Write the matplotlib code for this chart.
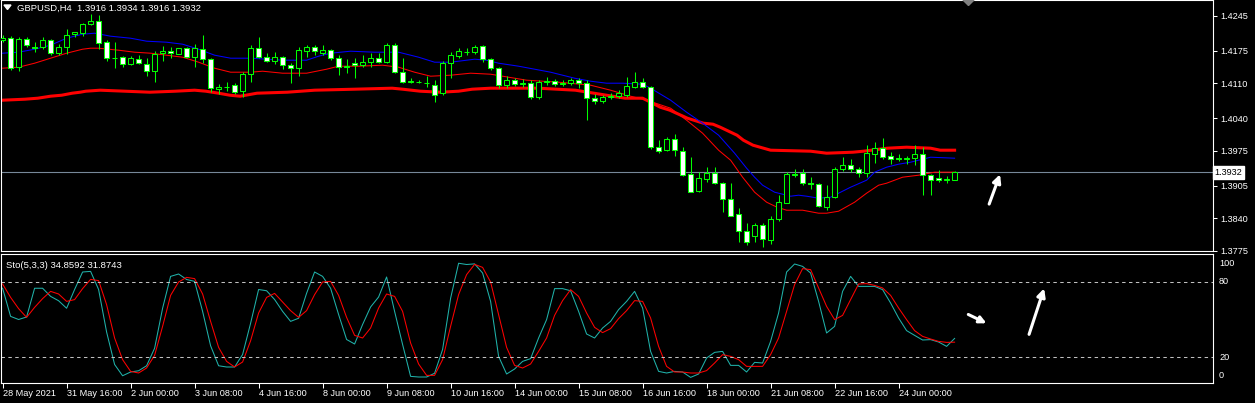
import matplotlib
matplotlib.use("Agg")
import matplotlib.pyplot as plt
import matplotlib.transforms as mtransforms
from matplotlib.patches import Polygon
import numpy as np

plt.rcParams['font.family'] = ['Liberation Sans', 'DejaVu Sans']

# GBPUSD H4 candles
opens = [1.4196, 1.4200, 1.4142, 1.4198, 1.4182, 1.4182, 1.4196, 1.4170, 1.4182, 1.4208,
         1.4210, 1.4228, 1.4234, 1.4192, 1.4161, 1.4162, 1.4148, 1.4158, 1.4148, 1.4134,
         1.4170, 1.4174, 1.4168, 1.4180, 1.4162, 1.4178, 1.4158, 1.4098, 1.4102, 1.4106,
         1.4094, 1.4128, 1.4180, 1.4162, 1.4154, 1.4162, 1.4146, 1.4140, 1.4174, 1.4182,
         1.4170, 1.4176, 1.4160, 1.4142, 1.4150, 1.4146, 1.4152, 1.4160, 1.4152, 1.4186,
         1.4132, 1.4113, 1.4112, 1.4110, 1.4106, 1.4090, 1.4150, 1.4164, 1.4172, 1.4172,
         1.4184, 1.4158, 1.4140, 1.4106, 1.4116, 1.4108, 1.4110, 1.4082, 1.4112, 1.4114,
         1.4108, 1.4110, 1.4116, 1.4110, 1.4080, 1.4074, 1.4082, 1.4084, 1.4086, 1.4102,
         1.4112, 1.4102, 1.3982, 1.3976, 1.3998, 1.3974, 1.3928, 1.3894, 1.3918, 1.3930,
         1.3910, 1.3878, 1.3848, 1.3814, 1.3804, 1.3826, 1.3796, 1.3838, 1.3870, 1.3928,
         1.3930, 1.3910, 1.3908, 1.3862, 1.3882, 1.3938, 1.3946, 1.3938, 1.3930, 1.3968,
         1.3980, 1.3964, 1.3960, 1.3959, 1.3960, 1.3968, 1.3926, 1.3920, 1.3917, 1.3916]
highs = [1.4206, 1.4204, 1.4202, 1.4202, 1.4192, 1.4202, 1.4198, 1.4188, 1.4218, 1.4213,
         1.4231, 1.4248, 1.4246, 1.4196, 1.4192, 1.4164, 1.4164, 1.4166, 1.4160, 1.4174,
         1.4184, 1.4182, 1.4180, 1.4182, 1.4188, 1.4206, 1.4160, 1.4108, 1.4112, 1.4110,
         1.4132, 1.4186, 1.4202, 1.4170, 1.4172, 1.4164, 1.4150, 1.4182, 1.4186, 1.4186,
         1.4186, 1.4178, 1.4166, 1.4158, 1.4160, 1.4166, 1.4170, 1.4170, 1.4190, 1.4190,
         1.4160, 1.4120, 1.4116, 1.4124, 1.4116, 1.4154, 1.4172, 1.4180, 1.4180, 1.4186,
         1.4186, 1.4160, 1.4142, 1.4124, 1.4120, 1.4118, 1.4116, 1.4116, 1.4122, 1.4118,
         1.4116, 1.4120, 1.4120, 1.4116, 1.4088, 1.4086, 1.4090, 1.4096, 1.4122, 1.4132,
         1.4120, 1.4104, 1.3996, 1.4002, 1.4008, 1.3982, 1.3962, 1.3932, 1.3942, 1.3942,
         1.3912, 1.3910, 1.3860, 1.3830, 1.3830, 1.3830, 1.3844, 1.3886, 1.3932, 1.3938,
         1.3938, 1.3922, 1.3910, 1.3906, 1.3942, 1.3962, 1.3958, 1.3942, 1.3986, 1.3992,
         1.4000, 1.3972, 1.3968, 1.3964, 1.3986, 1.3982, 1.3928, 1.3936, 1.3924, 1.3934]
lows = [1.4192, 1.4136, 1.4134, 1.4182, 1.4172, 1.4178, 1.4166, 1.4166, 1.4168, 1.4202,
        1.4205, 1.4226, 1.4178, 1.4154, 1.4140, 1.4142, 1.4146, 1.4148, 1.4124, 1.4112,
        1.4154, 1.4160, 1.4168, 1.4160, 1.4142, 1.4150, 1.4092, 1.4088, 1.4094, 1.4088,
        1.4082, 1.4112, 1.4160, 1.4152, 1.4148, 1.4138, 1.4110, 1.4124, 1.4162, 1.4166,
        1.4166, 1.4156, 1.4126, 1.4130, 1.4120, 1.4142, 1.4142, 1.4150, 1.4150, 1.4130,
        1.4110, 1.4110, 1.4110, 1.4102, 1.4072, 1.4086, 1.4120, 1.4160, 1.4166, 1.4168,
        1.4152, 1.4136, 1.4100, 1.4100, 1.4104, 1.4102, 1.4078, 1.4078, 1.4106, 1.4104,
        1.4104, 1.4106, 1.4100, 1.4036, 1.4068, 1.4070, 1.4078, 1.4080, 1.4082, 1.4100,
        1.4100, 1.3978, 1.3970, 1.3974, 1.3964, 1.3924, 1.3892, 1.3892, 1.3912, 1.3908,
        1.3852, 1.3844, 1.3792, 1.3786, 1.3792, 1.3782, 1.3788, 1.3834, 1.3870, 1.3922,
        1.3906, 1.3898, 1.3862, 1.3856, 1.3880, 1.3934, 1.3932, 1.3922, 1.3922, 1.3950,
        1.3958, 1.3948, 1.3954, 1.3948, 1.3946, 1.3886, 1.3886, 1.3912, 1.3910, 1.3916]
closes = [1.4200, 1.4140, 1.4198, 1.4186, 1.4181, 1.4196, 1.4170, 1.4182, 1.4206, 1.4212,
          1.4228, 1.4234, 1.4190, 1.4160, 1.4160, 1.4148, 1.4160, 1.4150, 1.4134, 1.4168,
          1.4174, 1.4170, 1.4180, 1.4162, 1.4180, 1.4158, 1.4100, 1.4102, 1.4103, 1.4092,
          1.4128, 1.4180, 1.4162, 1.4154, 1.4162, 1.4146, 1.4140, 1.4176, 1.4182, 1.4174,
          1.4176, 1.4160, 1.4142, 1.4144, 1.4146, 1.4152, 1.4160, 1.4152, 1.4186, 1.4132,
          1.4112, 1.4115, 1.4113, 1.4111, 1.4086, 1.4150, 1.4166, 1.4174, 1.4173, 1.4182,
          1.4158, 1.4140, 1.4106, 1.4116, 1.4108, 1.4110, 1.4082, 1.4112, 1.4114, 1.4108,
          1.4110, 1.4116, 1.4110, 1.4080, 1.4074, 1.4082, 1.4084, 1.4090, 1.4104, 1.4112,
          1.4102, 1.3982, 1.3974, 1.3998, 1.3976, 1.3926, 1.3892, 1.3920, 1.3930, 1.3910,
          1.3878, 1.3844, 1.3814, 1.3792, 1.3826, 1.3798, 1.3838, 1.3872, 1.3928, 1.3927,
          1.3910, 1.3909, 1.3864, 1.3882, 1.3938, 1.3946, 1.3938, 1.3930, 1.3970, 1.3980,
          1.3962, 1.3958, 1.3959, 1.3960, 1.3968, 1.3926, 1.3916, 1.3916, 1.3918, 1.3932]

# moving averages (bar index, price)
blue_idx = [0, 2, 4, 6, 8, 10, 11.5, 13.5, 16, 18, 20.5, 22.5, 24.5, 26.5, 28.5, 31, 35, 38, 39.5, 41,
            43.5, 46.5, 49.5, 50.5, 52, 54, 56, 57, 59, 60.5, 62, 64.5, 68.5, 71.5, 73.5, 75.5, 77.5,
            80, 81, 83.5, 85.5, 87.5, 89.5, 91.5, 93, 94, 95, 96.5, 98.5, 99.5, 100.5, 102, 103.5,
            104.5, 106, 108, 109, 110.5, 112, 113.5, 114.5, 116, 119]
blue_ma = [1.4170, 1.4172, 1.4178, 1.4186, 1.4200, 1.4208, 1.4210, 1.4204, 1.4200, 1.4194,
           1.4192, 1.4188, 1.4178, 1.4166, 1.4160, 1.4160, 1.4156, 1.4156, 1.4164, 1.4170,
           1.4174, 1.4172, 1.4172, 1.4168, 1.4162, 1.4152, 1.4152, 1.4154, 1.4158, 1.4156,
           1.4150, 1.4144, 1.4132, 1.4120, 1.4114, 1.4110, 1.4110, 1.4108, 1.4100, 1.4076,
           1.4052, 1.4030, 1.4006, 1.3970, 1.3940, 1.3922, 1.3906, 1.3892, 1.3884, 1.3886,
           1.3884, 1.3880, 1.3882, 1.3890, 1.3902, 1.3916, 1.3932, 1.3942, 1.3948, 1.3952,
           1.3956, 1.3962, 1.3960]
red_idx = [0, 2, 4, 6, 8, 10, 11, 12, 14.5, 16.5, 18.5, 20.5, 22.5, 24.5, 26.5, 28.5, 31, 32.5, 35, 38,
           40.5, 42, 44.5, 47.5, 49.5, 51.5, 53.5, 56, 58.5, 61, 62.5, 65.5, 69.5, 73.5, 76, 78.5,
           80.5, 83.5, 85.5, 87.5, 89.5, 91, 92.5, 94, 95.5, 96.8, 98, 100, 102, 103, 104.5, 106.5,
           108, 109.5, 110.5, 112.5, 114.5, 116.5, 119]
red_ma = [1.4140, 1.4142, 1.4150, 1.4160, 1.4170, 1.4178, 1.4180, 1.4180, 1.4176, 1.4172,
          1.4170, 1.4166, 1.4162, 1.4152, 1.4140, 1.4132, 1.4132, 1.4134, 1.4130, 1.4130,
          1.4138, 1.4144, 1.4144, 1.4146, 1.4142, 1.4132, 1.4124, 1.4126, 1.4130, 1.4128,
          1.4124, 1.4116, 1.4112, 1.4106, 1.4096, 1.4084, 1.4076, 1.4060, 1.4036, 1.4010,
          1.3976, 1.3956, 1.3922, 1.3892, 1.3872, 1.3862, 1.3856, 1.3856, 1.3850, 1.3850,
          1.3854, 1.3872, 1.3890, 1.3906, 1.3910, 1.3922, 1.3926, 1.3932, 1.3932]
slow_idx = [0, 2.8, 4.4, 6, 7.4, 8.7, 9.7, 10.4, 12.2, 15.3, 18.4, 21.6, 24, 25.4, 27, 28.4, 29.7,
            31.8, 35.6, 39, 44, 48.7, 50, 52.2, 54.7, 57, 58.7, 61, 67, 71.6, 74.7, 77.8, 80, 81,
            82.2, 83.4, 85.6, 87.6, 88.8, 89.7, 91.8, 92.6, 93.8, 96, 101, 103, 106.3, 107.6,
            110.6, 113, 116, 117.2, 119]
slow_ma = [1.4076, 1.4078, 1.4080, 1.4084, 1.4086, 1.4090, 1.4092, 1.4094, 1.4096, 1.4094,
           1.4092, 1.4094, 1.4096, 1.4094, 1.4090, 1.4086, 1.4084, 1.4090, 1.4092, 1.4096,
           1.4098, 1.4100, 1.4098, 1.4094, 1.4092, 1.4094, 1.4098, 1.4100, 1.4100, 1.4096,
           1.4088, 1.4080, 1.4080, 1.4072, 1.4062, 1.4056, 1.4040, 1.4030, 1.4028, 1.4022,
           1.4006, 1.3996, 1.3986, 1.3976, 1.3974, 1.3970, 1.3972, 1.3974, 1.3980, 1.3982,
           1.3980, 1.3976, 1.3976]

# Stochastic(5,3,3)
sto_main = [75, 52.5, 50, 52, 75, 75, 68.5, 65, 59, 74,
            88, 88.5, 74, 40, 14, 5, 8, 9, 13, 27,
            59, 84.5, 86.4, 82, 80.5, 56.5, 29, 13, 12, 12,
            22, 47, 74, 73, 66, 56.5, 48.5, 51, 71, 88,
            84.5, 75, 54, 34, 30.4, 46, 60, 68, 84, 56.5,
            30, 4.5, 4, 4, 7, 26, 67, 95, 94, 94.5,
            87.2, 64.5, 20.5, 6.4, 10.4, 16.5, 18.7, 35.2, 49.9, 74.7,
            74.7, 73, 56.5, 38.4, 35.2, 43.2, 48.5, 57.9, 64.5, 72.5,
            59.2, 24.5, 8.5, 7.2, 8.5, 8, 3.7, 6.4, 19.2, 23.7,
            24.5, 13.3, 13.3, 8, 15.7, 15.2, 32.5, 55.2, 88, 94.4,
            92.5, 87.2, 64.5, 39.2, 44.5, 72.5, 84.5, 76.5, 76.5, 76.5,
            73.9, 63.2, 51.2, 41.1, 37.3, 33.6, 33.9, 32, 28.5, 34.86]
sto_signal = [78.4, 67.7, 58.7, 51.7, 59.7, 66.7, 72.5, 70.4, 64.5, 65.9,
              74.7, 82.1, 81.1, 61.9, 35.2, 17.9, 8.5, 7.2, 11.2, 21.3,
              44.5, 69.3, 80, 83.7, 82.7, 70.4, 48.5, 27.7, 16.5, 12,
              16, 33, 55.2, 67.7, 70.9, 64, 57.1, 51.7, 57.1, 69.9,
              80, 80.5, 69.3, 51.7, 37.3, 35.2, 43.2, 59.2, 70.4, 68.5,
              56.5, 31.2, 14.4, 5.3, 5.3, 17.9, 44.5, 69.9, 85.9, 94.1,
              91.7, 80, 53.9, 27.7, 13.3, 11.2, 14.4, 24.5, 35.2, 53.3,
              65.1, 73.9, 68.5, 55.2, 43.7, 39.5, 42.7, 50.7, 57.1, 65.1,
              64.5, 51.2, 28.5, 12.5, 8, 8, 7.2, 7.2, 9.1, 15.2,
              21.9, 20.5, 17.9, 12.5, 12.5, 12.5, 21.9, 35.2, 56.5, 77.9,
              90.7, 89.9, 75.2, 60.5, 49.9, 53.3, 65.9, 78.4, 78.7, 77.3,
              75.2, 69.3, 59.2, 49.9, 41.1, 36.5, 34.4, 32.5, 31.7, 31.87]

price_ticks = [1.4245, 1.4175, 1.4110, 1.4040, 1.3975, 1.3905, 1.3840, 1.3775]
date_pos = list(range(0, 113, 8))
date_labels = ["28 May 2021", "31 May 16:00", "2 Jun 00:00", "3 Jun 08:00", "4 Jun 16:00",
               "8 Jun 00:00", "9 Jun 08:00", "10 Jun 16:00", "14 Jun 00:00", "15 Jun 08:00",
               "16 Jun 16:00", "18 Jun 00:00", "21 Jun 08:00", "22 Jun 16:00", "24 Jun 00:00"]
bid = 1.3932

W, H = 1255, 403
LIME = '#00ff00'
fig = plt.figure(figsize=(W / 100, H / 100), dpi=100, facecolor='black')
ax = fig.add_axes([1 / W, 1 - 251 / H, 1212 / W, 251 / H], facecolor='black')
ax2 = fig.add_axes([1 / W, 1 - 383 / H, 1212 / W, 128.5 / H], facecolor='black')

x = np.arange(len(opens))
o = np.array(opens)
c = np.array(closes)

# candles
ax.vlines(x, lows, highs, color=LIME, lw=0.75, zorder=3)
body_col = np.where(c < o, 'white', 'black')
ax.bar(x, np.abs(c - o), bottom=np.minimum(o, c), width=0.6, color=body_col,
       edgecolor=LIME, linewidth=0.75, zorder=4)

# moving averages
ax.plot(slow_idx, slow_ma, color='red', lw=2.2, zorder=2)
ax.plot(red_idx, red_ma, color='red', lw=0.75, zorder=2)
ax.plot(blue_idx, blue_ma, color='blue', lw=0.75, zorder=2)

ax.axhline(bid, color='#778899', lw=0.8, zorder=1)

xmin, xmax = -0.2, 151.3
ax.set_xlim(xmin, xmax)
ax.set_ylim(1.37744, 1.42764)
ax.set_xticks([])
ax.yaxis.tick_right()
ax.set_yticks(price_ticks)
ax.set_yticklabels([f"{t:.4f}" for t in price_ticks])
ax.tick_params(axis='y', colors='white', length=3, width=0.75, pad=2, labelsize=6.6)
for s in ax.spines.values():
    s.set_color('white')
    s.set_linewidth(0.8)

trans = mtransforms.blended_transform_factory(ax.transAxes, ax.transData)
ax.text(1.0015, bid, f"{bid:.4f}", transform=trans, va='center', ha='left', fontsize=6.6,
        color='black', bbox=dict(boxstyle='square,pad=0.2', fc='white', ec='white'), zorder=6)

fig.text(17 / W, 1 - 8 / H, "GBPUSD,H4  1.3916 1.3934 1.3916 1.3932", color='white',
         fontsize=6.8, va='center', ha='left')
fig.patches.append(Polygon([(4 / W, 1 - 5 / H), (11 / W, 1 - 5 / H), (7.5 / W, 1 - 9.5 / H)],
                           closed=True, transform=fig.transFigure, color='white'))
fig.patches.append(Polygon([(963 / W, 1.0), (974 / W, 1.0), (968.5 / W, 1 - 5.5 / H)],
                           closed=True, transform=fig.transFigure, color='#808080'))

ax.annotate('', xy=(124.8, 1.3933), xytext=(123.2, 1.3863),
            arrowprops=dict(arrowstyle='-|>', color='white', lw=2.2, mutation_scale=12))

# stochastic window
ax2.plot(x, sto_main, color='#20b2aa', lw=0.75)
ax2.plot(x, sto_signal, color='red', lw=0.75)
for lvl in (80, 20):
    ax2.axhline(lvl, color='#c0c0c0', lw=0.75, ls=(0, (3.3, 3.3)))
ax2.set_xlim(xmin, xmax)
ax2.set_ylim(-0.8, 102)
ax2.set_yticks([])
ax2.set_xticks(date_pos)
ax2.set_xticklabels(date_labels, ha='left')
ax2.tick_params(axis='x', colors='white', length=3.5, width=0.75, pad=1, labelsize=6.6)
for s in ax2.spines.values():
    s.set_color('white')
    s.set_linewidth(0.8)

for lab, ypx in [("100", 263), ("80", 282), ("20", 357), ("0", 375)]:
    fig.text(1219 / W, 1 - ypx / H, lab, color='white', fontsize=6.6, va='center', ha='left')

fig.text(6 / W, 1 - 265.5 / H, "Sto(5,3,3) 34.8592 31.8743", color='white', fontsize=6.8,
         va='center', ha='left')

ax2.annotate('', xy=(123.3, 46), xytext=(120.4, 55),
             arrowprops=dict(arrowstyle='-|>', color='white', lw=2.2, mutation_scale=10))
ax2.annotate('', xy=(130.3, 77), xytext=(128.2, 36),
             arrowprops=dict(arrowstyle='-|>', color='white', lw=2.2, mutation_scale=12))

fig.savefig('out.png', dpi=100, facecolor='black')
